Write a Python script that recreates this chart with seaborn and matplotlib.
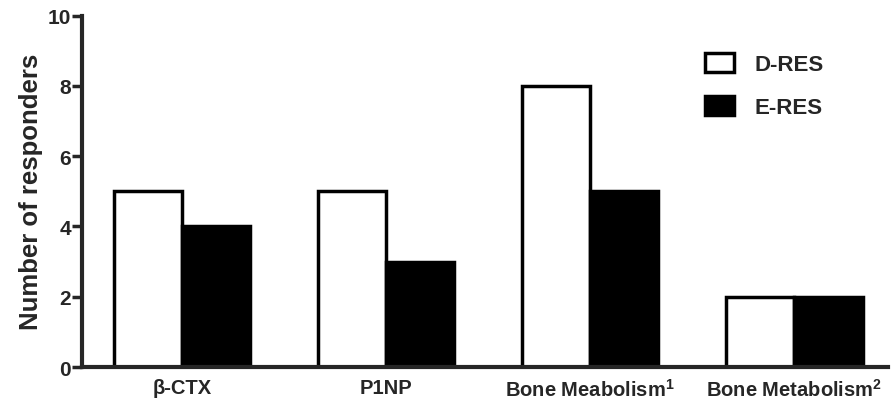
import matplotlib
matplotlib.use("Agg")
import matplotlib.pyplot as plt
import seaborn as sns
import pandas as pd

categories = ["β-CTX", "P1NP", "Bone Meabolism$^{1}$", "Bone Metabolism$^{2}$"]
groups = ["D-RES", "E-RES"]
d_res = [5, 5, 8, 2]
e_res = [4, 3, 5, 2]

df = pd.DataFrame({
    "category": categories * 2,
    "group": [groups[0]] * 4 + [groups[1]] * 4,
    "value": d_res + e_res,
})

sns.set_theme(style="ticks")
plt.rcParams["font.family"] = ["Liberation Sans", "DejaVu Sans"]
plt.rcParams["mathtext.fontset"] = "custom"
plt.rcParams["mathtext.bf"] = "Liberation Sans:bold"
plt.rcParams["mathtext.rm"] = "Liberation Sans:bold"
plt.rcParams["mathtext.it"] = "Liberation Sans:bold"
plt.rcParams["mathtext.default"] = "bf"

fig, ax = plt.subplots(figsize=(8.91, 4.14), dpi=100)
sns.barplot(data=df, x="category", y="value", hue="group",
            palette=["white", "black"], edgecolor="black", linewidth=2.5,
            width=0.667, ax=ax, errorbar=None)

ax.set_xlim(-0.49, 3.46)
ax.set_ylim(0, 10)
ax.set_yticks([0, 2, 4, 6, 8, 10])
ax.set_xlabel("")
ax.set_ylabel("Number of responders", fontsize=18.5, fontweight="bold", labelpad=3)
for lab in ax.get_yticklabels():
    lab.set_fontweight("bold")
    lab.set_fontsize(15)
for lab in ax.get_xticklabels():
    lab.set_fontweight("bold")
    lab.set_fontsize(14.5)
ax.tick_params(axis="y", length=7, width=2.5, direction="out", pad=1)
ax.tick_params(axis="x", length=0, pad=8)
sns.despine(ax=ax)
ax.spines["left"].set_linewidth(3)
ax.spines["bottom"].set_linewidth(3)

leg = ax.legend(loc="upper left", bbox_to_anchor=(0.748, 0.95), frameon=False,
                prop={"weight": "bold", "size": 16}, handlelength=1.3,
                handleheight=0.9, labelspacing=0.95, handletextpad=0.9)

fig.subplots_adjust(left=0.092, right=0.997, top=0.96, bottom=0.111)
fig.savefig("out.png", dpi=100)
